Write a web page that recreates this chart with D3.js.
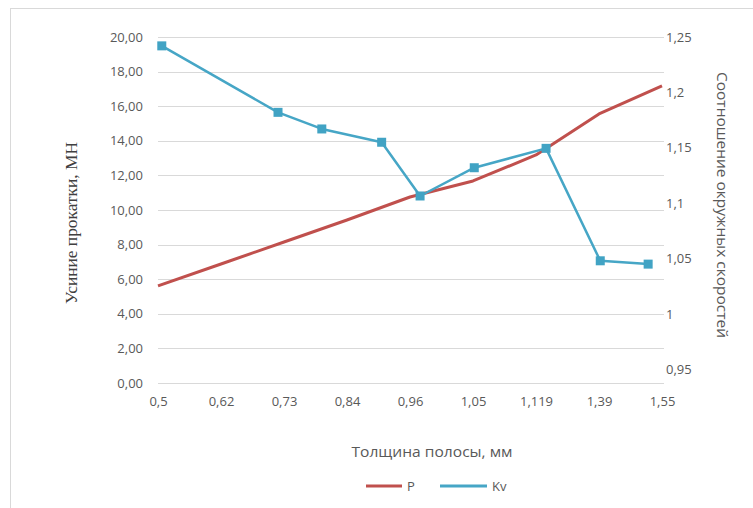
<!DOCTYPE html>
<html>
<head>
<meta charset="utf-8">
<script src="https://cdn.jsdelivr.net/npm/d3@7"></script>
<style>
  html, body { margin: 0; padding: 0; background: #fff; }
  svg { display: block; }
</style>
</head>
<body>
<svg id="chart" width="753" height="508"></svg>
<script>
// ---- data ----
const categories = ["0,5", "0,62", "0,73", "0,84", "0,96", "1,05", "1,119", "1,39", "1,55"];
// P (MN) at each category position
const pValues = [5.61, 6.88, 8.15, 9.42, 10.75, 11.68, 13.18, 15.55, 17.17];
// Kv points: position along the category axis and ratio value
const kvPos = [0.06, 1.905, 2.6, 3.55, 4.16, 5.02, 6.16, 7.02, 7.78];
const kvValues = [1.242, 1.182, 1.167, 1.155, 1.1065, 1.132, 1.1495, 1.048, 1.045];
const leftTicks = [0, 2, 4, 6, 8, 10, 12, 14, 16, 18, 20];
const rightTicks = [0.95, 1, 1.05, 1.1, 1.15, 1.2, 1.25];
const rightTickLabels = ["0,95", "1", "1,05", "1,1", "1,15", "1,2", "1,25"];
const seriesNames = ["P", "Kv"];
const titleX = "Толщина полосы, мм";
const titleY = "Усиние прокатки, МН";
const titleY2 = "Соотношение  окружных скоростей";

// ---- layout ----
const plot = { left: 158, right: 662, top: 37, bottom: 383 };
const gridRight = 664;
const txt = "#595959", grid = "#d9d9d9";
const red = "#c0504d", blue = "#46a6c6";
const font = "'Open Sans', sans-serif";

const locale = d3.formatLocale({ decimal: ",", thousands: " ", grouping: [3], currency: ["", ""] });
const fmt2 = locale.format(".2f");

const svg = d3.select("#chart");

// outer frame
svg.append("rect").attr("x", 10.5).attr("y", 8.5).attr("width", 760).attr("height", 520)
  .attr("fill", "none").attr("stroke", "#d9d9d9").attr("stroke-width", 1);

const x = d3.scaleLinear().domain([0, categories.length - 1]).range([plot.left, plot.right]);
const y = d3.scaleLinear().domain([0, 20]).range([plot.bottom, plot.top]);
// right scale: 1,25 at top, 0,95 sits a bit above the bottom
const y2 = d3.scaleLinear().domain([0.9377, 1.25]).range([plot.bottom, plot.top]);

// gridlines
svg.append("g").selectAll("line").data(leftTicks).join("line")
  .attr("x1", plot.left).attr("x2", gridRight)
  .attr("y1", d => Math.round(y(d)) + 0.5).attr("y2", d => Math.round(y(d)) + 0.5)
  .attr("stroke", grid).attr("stroke-width", 1);

// left axis
const gL = svg.append("g").attr("transform", `translate(${plot.left - 15},0)`)
  .call(d3.axisLeft(y).tickValues(leftTicks).tickFormat(fmt2).tickSize(0).tickPadding(0));
gL.select(".domain").remove();
gL.selectAll("text").attr("fill", txt).style("font-family", font).style("font-size", "13px");

// right axis
const gR = svg.append("g").attr("transform", `translate(${plot.right + 4},0)`)
  .call(d3.axisRight(y2).tickValues(rightTicks).tickFormat((d, i) => rightTickLabels[i]).tickSize(0).tickPadding(0));
gR.select(".domain").remove();
gR.selectAll("text").attr("fill", txt).style("font-family", font).style("font-size", "13px");

// bottom axis
const gB = svg.append("g").attr("transform", `translate(0,${plot.bottom + 14})`)
  .call(d3.axisBottom(x).tickValues(d3.range(categories.length)).tickFormat((d, i) => categories[i]).tickSize(0).tickPadding(0));
gB.select(".domain").remove();
gB.selectAll("text").attr("fill", txt).style("font-family", font).style("font-size", "13px");

// series P
const lineP = d3.line().x((d, i) => x(i)).y(d => y(d));
svg.append("path").datum(pValues).attr("d", lineP)
  .attr("fill", "none").attr("stroke", red).attr("stroke-width", 3).attr("stroke-linejoin", "round");

// series Kv
const kvData = kvPos.map((p, i) => [p, kvValues[i]]);
const lineKv = d3.line().x(d => x(d[0])).y(d => y2(d[1]));
svg.append("path").datum(kvData).attr("d", lineKv)
  .attr("fill", "none").attr("stroke", blue).attr("stroke-width", 2.5).attr("stroke-linejoin", "round");
const ms = 9;
svg.append("g").selectAll("rect").data(kvData).join("rect")
  .attr("x", d => x(d[0]) - ms / 2).attr("y", d => y2(d[1]) - ms / 2)
  .attr("width", ms).attr("height", ms).attr("fill", "#41a3c4");

// titles
function fitText(sel, len) { sel.attr("textLength", len).attr("lengthAdjust", "spacingAndGlyphs"); }

const tX = svg.append("text").attr("x", 432).attr("y", 457).attr("text-anchor", "middle")
  .attr("fill", txt).style("font-family", font).style("font-size", "14px").text(titleX);
fitText(tX, 161);

const tY = svg.append("text").attr("transform", "translate(77,223) rotate(-90)").attr("text-anchor", "middle")
  .attr("fill", "#404040").style("font-family", "'Liberation Serif', 'Times New Roman', serif").style("font-size", "16px").text(titleY);
fitText(tY, 162);

const tY2 = svg.append("text").attr("transform", "translate(717,205) rotate(90)").attr("text-anchor", "middle")
  .attr("fill", txt).style("font-family", font).style("font-size", "14px").text(titleY2);
fitText(tY2, 266);

// legend
const legend = [
  { name: seriesNames[0], color: red, x1: 366, x2: 402, w: 3 },
  { name: seriesNames[1], color: blue, x1: 440, x2: 487, w: 3 }
];
const lg = svg.append("g");
legend.forEach(d => {
  lg.append("line").attr("x1", d.x1).attr("x2", d.x2).attr("y1", 486).attr("y2", 486)
    .attr("stroke", d.color).attr("stroke-width", d.w);
  lg.append("text").attr("x", d.x2 + 5).attr("y", 491).attr("fill", txt)
    .style("font-family", font).style("font-size", "13px").text(d.name);
});
</script>
</body>
</html>
